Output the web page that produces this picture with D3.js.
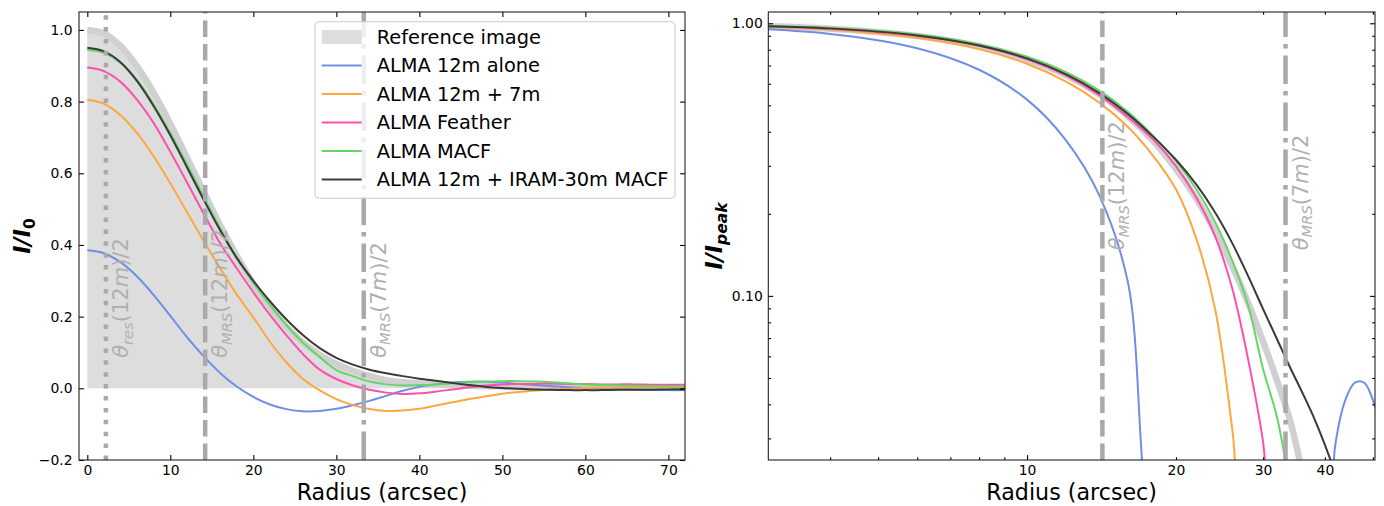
<!DOCTYPE html>
<html>
<head>
<meta charset="utf-8">
<script src="https://cdn.jsdelivr.net/npm/d3@7"></script>
<style>
  body { margin: 0; background: #fff; }
  svg { display: block; font-family: 'DejaVu Sans', sans-serif; }
</style>
</head>
<body>
<svg id="chart" width="1384" height="506"></svg>
<script>
// radial profiles, radius in arcsec, intensity in units of I0
var radius = [0, 2, 4, 6, 8, 10, 12, 14, 16, 18, 20, 22, 24, 26, 28, 30, 32, 34, 36,
  38, 40, 42, 44, 46, 48, 50, 52, 54, 56, 58, 60, 62, 64, 66, 68, 70, 72];

var referenceImage = [1.000, 0.990, 0.955, 0.898, 0.824, 0.738, 0.644, 0.549, 0.455, 0.370,
  0.292, 0.227, 0.172, 0.128, 0.094, 0.068, 0.049, 0.035, 0.023, 0.017, 0.014, 0.011, 0.009,
  0.007, 0.006, 0.005, 0.004, 0.004, 0.003, 0.003, 0.003, 0.002, 0.002, 0.002, 0.002, 0.002, 0.002];

var alma12mAlone = [0.385, 0.377, 0.352, 0.312, 0.260, 0.202, 0.143, 0.090, 0.043, 0.005,
  -0.024, -0.045, -0.058, -0.064, -0.063, -0.057, -0.047, -0.035, -0.021, -0.007, 0.004, 0.011,
  0.016, 0.0185, 0.0185, 0.016, 0.0125, 0.009, 0.006, 0.003, 0.001, -0.001, -0.002, -0.003,
  -0.004, -0.005, -0.005];

var alma12m7m = [0.805, 0.794, 0.762, 0.712, 0.647, 0.572, 0.492, 0.412, 0.335, 0.262,
  0.198, 0.130, 0.072, 0.026, -0.006, -0.030, -0.047, -0.058, -0.063, -0.062, -0.057, -0.048,
  -0.039, -0.030, -0.022, -0.015, -0.010, -0.006, -0.003, -0.001, 0.001, 0.002, 0.002, 0.003,
  0.003, 0.003, 0.003];

var almaFeather = [0.895, 0.885, 0.855, 0.805, 0.740, 0.660, 0.575, 0.488, 0.405, 0.335,
  0.268, 0.205, 0.148, 0.095, 0.052, 0.026, 0.008, -0.004, -0.012, -0.016, -0.014, -0.009,
  -0.003, 0.003, 0.008, 0.011, 0.012, 0.013, 0.013, 0.012, 0.012, 0.011, 0.011, 0.011, 0.010,
  0.010, 0.010];

var almaMacf = [0.945, 0.936, 0.908, 0.860, 0.792, 0.712, 0.625, 0.535, 0.447, 0.365,
  0.295, 0.232, 0.176, 0.127, 0.087, 0.051, 0.034, 0.019, 0.011, 0.008, 0.009, 0.011, 0.014,
  0.017, 0.019, 0.020, 0.020, 0.019, 0.017, 0.014, 0.011, 0.009, 0.008, 0.007, 0.006, 0.005, 0.005];

var alma12mIram = [0.950, 0.940, 0.910, 0.857, 0.787, 0.706, 0.617, 0.527, 0.441, 0.364,
  0.300, 0.243, 0.192, 0.148, 0.112, 0.085, 0.066, 0.052, 0.042, 0.034, 0.027, 0.021, 0.015,
  0.009, 0.004, 0.001, -0.001, -0.003, -0.004, -0.005, -0.005, -0.005, -0.004, -0.004, -0.004,
  -0.003, -0.003];

var seriesNames = ['ALMA 12m alone', 'ALMA 12m + 7m', 'ALMA Feather', 'ALMA MACF',
  'ALMA 12m + IRAM-30m MACF'];
var seriesValues = [alma12mAlone, alma12m7m, almaFeather, almaMacf, alma12mIram];
var seriesColors = ['#6f8fe6', '#ffa640', '#ff4fac', '#66d466', '#3a3a3a'];

// angular scales marked on the plots (arcsec)
var markerRadii = [2.24, 14.2, 33.3];
var markerSubs = ['res', 'MRS', 'MRS'];
var markerArrays = ['12m', '12m', '7m'];
var markerDashes = ['4.5,7.4', '16.5,7', '28.5,7,4.5,7'];

var linearXTicks = [0, 10, 20, 30, 40, 50, 60, 70];
var linearYTicks = [-0.2, 0, 0.2, 0.4, 0.6, 0.8, 1.0];
var logYMajor = [0.1, 1.0];
var logYMinor = [0.03, 0.04, 0.05, 0.06, 0.07, 0.08, 0.09, 0.2, 0.3, 0.4, 0.5, 0.6, 0.7, 0.8, 0.9];
var logXTicks = [4, 5, 6, 7, 8, 9, 10, 20, 30, 40, 50];
var logXLabelled = [10, 20, 30, 40];

var svg = d3.select('#chart');
svg.append('rect').attr('width', 1384).attr('height', 506).attr('fill', '#fff');

var tickFont = 13.9, labelFont = 22.2, legendFont = 19.4, markerFont = 21;
var markerColor = '#a9a9a9';
var smooth = d3.curveCatmullRom.alpha(0.5);

// writes mathtext-like runs into a text element: [text, italic, subscript]
function mathRuns(text, runs, size) {
  var shift = size * 0.22;
  var down = false;
  runs.forEach(function(run) {
    var t = text.append('tspan').text(run[0])
      .attr('font-style', run[1] ? 'italic' : 'normal');
    if (run[2]) {
      t.attr('font-size', size * 0.7);
      if (!down) { t.attr('dy', shift); down = true; }
    } else if (down) {
      t.attr('dy', -shift); down = false;
    }
  });
}

function styleAxis(a) {
  a.select('.domain').remove();
  a.attr('font-family', 'DejaVu Sans').attr('font-size', tickFont);
  a.selectAll('line').attr('stroke', '#000').attr('stroke-width', 1.1);
  a.selectAll('text').attr('fill', '#000');
  return a;
}

function drawPanel(box, clipId) {
  var g = svg.append('g');
  g.append('clipPath').attr('id', clipId).append('rect')
    .attr('x', box.x0).attr('y', box.y0)
    .attr('width', box.x1 - box.x0).attr('height', box.y1 - box.y0);
  var plot = g.append('g').attr('clip-path', 'url(#' + clipId + ')');
  return {g: g, plot: plot};
}

function profile(values) {
  return radius.map(function(r, i) { return {r: r, v: values[i]}; });
}

// ---------- left panel: linear ----------
var leftBox = {x0: 79, x1: 685, y0: 12, y1: 460};
var xLin = d3.scaleLinear().domain([-1, 72]).range([leftBox.x0, leftBox.x1]);
var yLin = d3.scaleLinear().domain([-0.2, 1.05]).range([leftBox.y1, leftBox.y0]);
var left = drawPanel(leftBox, 'clipLeft');

left.plot.append('path')
  .datum(profile(referenceImage))
  .attr('fill', '#dddddd')
  .attr('d', d3.area().curve(smooth)
    .x(function(d) { return xLin(d.r); })
    .y0(yLin(0))
    .y1(function(d) { return yLin(d.v); }));

var lineLin = d3.line().curve(smooth)
  .x(function(d) { return xLin(d.r); })
  .y(function(d) { return yLin(d.v); });

left.plot.append('path').datum(profile(referenceImage))
  .attr('fill', 'none').attr('stroke', '#d0d0d0').attr('stroke-width', 6.5)
  .attr('d', lineLin);

seriesValues.forEach(function(vals, i) {
  left.plot.append('path').datum(profile(vals))
    .attr('fill', 'none').attr('stroke', seriesColors[i]).attr('stroke-width', 2)
    .attr('d', lineLin);
});

// ---------- right panel: log-log, normalised to each profile's peak ----------
var rightBox = {x0: 768.3, x1: 1375, y0: 12, y1: 460};
var xLog = d3.scaleLog().domain([3, 50.5]).range([rightBox.x0, rightBox.x1]);
var yLog = d3.scaleLog().domain([0.025, 1.1]).range([rightBox.y1, rightBox.y0]);
var right = drawPanel(rightBox, 'clipRight');

function normalised(values) {
  var peak = d3.max(values);
  // non-positive values are pushed below the axis, as matplotlib clips them
  return profile(values).filter(function(d) { return d.r > 0; })
    .map(function(d) { return {r: d.r, v: Math.max(d.v / peak, 0.01)}; });
}

var lineLog = d3.line().curve(smooth)
  .x(function(d) { return xLog(d.r); })
  .y(function(d) { return yLog(d.v); });

right.plot.append('path').datum(normalised(referenceImage))
  .attr('fill', 'none').attr('stroke', '#d0d0d0').attr('stroke-width', 6.5)
  .attr('d', lineLog);

seriesValues.forEach(function(vals, i) {
  right.plot.append('path').datum(normalised(vals))
    .attr('fill', 'none').attr('stroke', seriesColors[i]).attr('stroke-width', 2)
    .attr('d', lineLog);
});

// ---------- angular-scale markers ----------
function drawMarkers(panel, x, box, textY) {
  markerRadii.forEach(function(r, i) {
    var px = x(r);
    if (px < box.x0 || px > box.x1) return;
    panel.plot.append('line')
      .attr('x1', px).attr('x2', px).attr('y1', box.y1).attr('y2', box.y0)
      .attr('stroke', markerColor).attr('stroke-width', 4.5)
      .attr('stroke-dasharray', markerDashes[i]);
    var t = panel.g.append('text')
      .attr('transform', 'translate(' + (px + 22) + ',' + textY + ') rotate(-90)')
      .attr('fill', '#b0b0b0').attr('font-size', markerFont);
    mathRuns(t, [['\u03b8', true], [markerSubs[i], true, true], ['(' + markerArrays[i].slice(0, -1), false],
      ['m', true], [')/2', false]], markerFont);
  });
}
drawMarkers(left, xLin, leftBox, yLin(0.085));
drawMarkers(right, xLog, rightBox, yLog(0.147));

// ---------- axes ----------
function frame(box) {
  svg.append('rect')
    .attr('x', box.x0).attr('y', box.y0)
    .attr('width', box.x1 - box.x0).attr('height', box.y1 - box.y0)
    .attr('fill', 'none').attr('stroke', '#222').attr('stroke-width', 1.1);
}

var fmt1 = d3.format('.1f');
styleAxis(svg.append('g').attr('transform', 'translate(0,' + leftBox.y1 + ')')
  .call(d3.axisBottom(xLin).tickValues(linearXTicks).tickSizeInner(-4.9).tickSizeOuter(0).tickPadding(5)));
styleAxis(svg.append('g').attr('transform', 'translate(0,' + leftBox.y0 + ')')
  .call(d3.axisTop(xLin).tickValues(linearXTicks).tickSizeInner(-4.9).tickSizeOuter(0).tickFormat('')));
styleAxis(svg.append('g').attr('transform', 'translate(' + leftBox.x0 + ',0)')
  .call(d3.axisLeft(yLin).tickValues(linearYTicks).tickSizeInner(-4.9).tickSizeOuter(0).tickPadding(6.5).tickFormat(fmt1)));
styleAxis(svg.append('g').attr('transform', 'translate(' + leftBox.x1 + ',0)')
  .call(d3.axisRight(yLin).tickValues(linearYTicks).tickSizeInner(-4.9).tickSizeOuter(0).tickFormat('')));
frame(leftBox);

function logXFormat(d) { return logXLabelled.indexOf(d) >= 0 ? String(d) : ''; }
[['axisBottom', rightBox.y1, logXFormat], ['axisTop', rightBox.y0, function() { return ''; }]].forEach(function(s) {
  var a = styleAxis(svg.append('g').attr('transform', 'translate(0,' + s[1] + ')')
    .call(d3[s[0]](xLog).tickValues(logXTicks).tickSizeInner(-2.8).tickSizeOuter(0).tickPadding(5).tickFormat(s[2])));
  a.selectAll('.tick').filter(function(d) { return d === 10; }).select('line')
    .attr('y2', s[0] === 'axisBottom' ? -4.9 : 4.9);
});
var fmt2 = d3.format('.2f');
[['axisLeft', rightBox.x0, fmt2], ['axisRight', rightBox.x1, function() { return ''; }]].forEach(function(s) {
  styleAxis(svg.append('g').attr('transform', 'translate(' + s[1] + ',0)')
    .call(d3[s[0]](yLog).tickValues(logYMajor).tickSizeInner(-4.9).tickSizeOuter(0).tickPadding(5.5).tickFormat(s[2])));
  styleAxis(svg.append('g').attr('transform', 'translate(' + s[1] + ',0)')
    .call(d3[s[0]](yLog).tickValues(logYMinor).tickSizeInner(-2.8).tickSizeOuter(0).tickFormat('')));
});
frame(rightBox);

// axis titles
[leftBox, rightBox].forEach(function(box) {
  svg.append('text')
    .attr('x', (box.x0 + box.x1) / 2).attr('y', 500)
    .attr('text-anchor', 'middle').attr('font-size', labelFont)
    .text('Radius (arcsec)');
});
var yl = svg.append('text').attr('transform', 'translate(30,236) rotate(-90)')
  .attr('text-anchor', 'middle').attr('font-size', labelFont).attr('font-weight', 'bold');
mathRuns(yl, [['I/I', true], ['0', false, true]], labelFont);
var yr = svg.append('text').attr('transform', 'translate(722,236) rotate(-90)')
  .attr('text-anchor', 'middle').attr('font-size', labelFont).attr('font-weight', 'bold');
mathRuns(yr, [['I/I', true], ['peak', true, true]], labelFont);

// ---------- legend ----------
var legend = svg.append('g').attr('transform', 'translate(315,21.7)');
legend.append('rect')
  .attr('width', 360).attr('height', 176.5).attr('rx', 4)
  .attr('fill', '#fff').attr('fill-opacity', 0.8)
  .attr('stroke', '#cccccc').attr('stroke-width', 1.1);
var legendRows = ['Reference image'].concat(seriesNames);
legendRows.forEach(function(name, i) {
  var cy = 15.3 + i * 28.5;
  if (i === 0) {
    legend.append('rect').attr('x', 6.7).attr('y', cy - 7).attr('width', 40).attr('height', 14)
      .attr('fill', '#dddddd');
  } else {
    legend.append('line').attr('x1', 6.7).attr('x2', 46.7).attr('y1', cy).attr('y2', cy)
      .attr('stroke', seriesColors[i - 1]).attr('stroke-width', 2);
  }
  legend.append('text').attr('x', 61.7).attr('y', cy).attr('dy', '0.35em')
    .attr('font-size', legendFont).text(name);
});
</script>
</body>
</html>
